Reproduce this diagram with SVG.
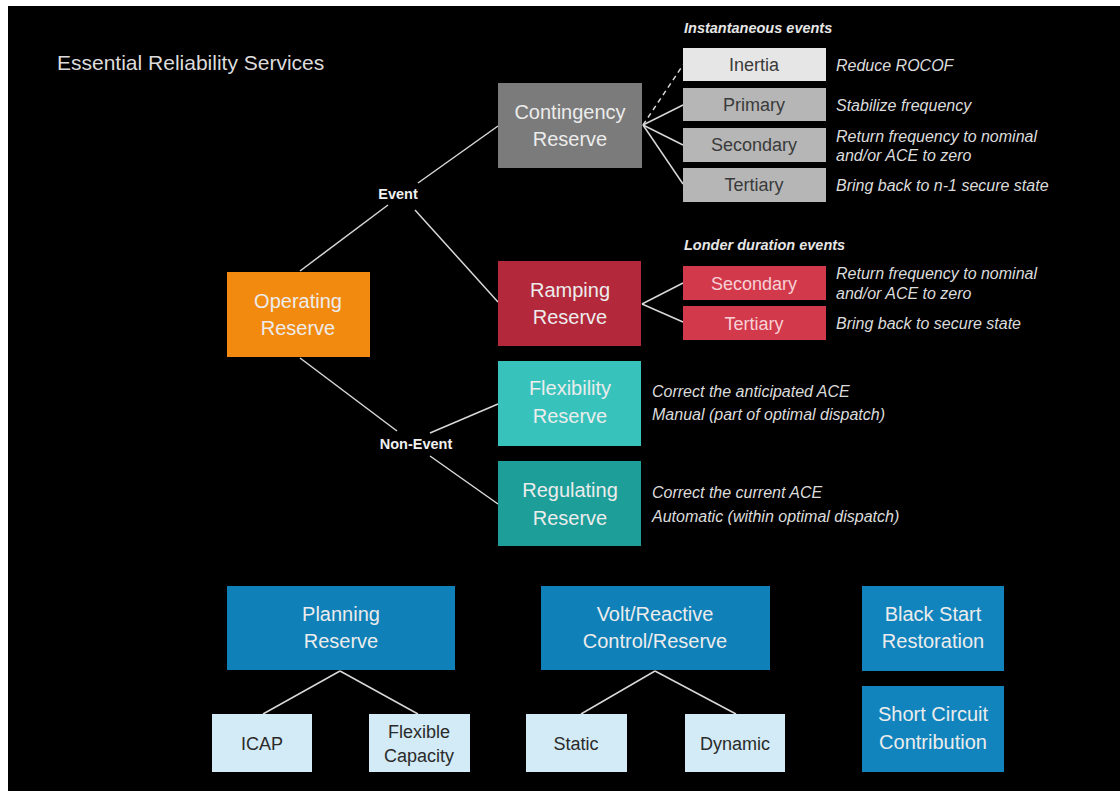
<svg xmlns="http://www.w3.org/2000/svg" width="1120" height="791" viewBox="0 0 1120 791">
<style>
.box{font-family:"Liberation Sans",Arial,sans-serif;font-size:20px;fill:#ececec;text-anchor:middle;}
.sm{font-family:"Liberation Sans",Arial,sans-serif;font-size:18px;fill:#3a3a3a;text-anchor:middle;}
.smr{font-family:"Liberation Sans",Arial,sans-serif;font-size:18px;fill:#f7d0d4;text-anchor:middle;}
.lt{font-family:"Liberation Sans",Arial,sans-serif;font-size:18px;fill:#2a2a2a;text-anchor:middle;}
.desc{font-family:"Liberation Sans",Arial,sans-serif;font-size:16px;font-style:italic;fill:#dcdcdc;}
.hdr{font-family:"Liberation Sans",Arial,sans-serif;font-size:14.5px;font-style:italic;font-weight:bold;fill:#e6e6e6;}
.lbl{font-family:"Liberation Sans",Arial,sans-serif;font-size:14.5px;font-weight:bold;fill:#f0f0f0;text-anchor:middle;}
.ln{stroke:#d8d8d8;stroke-width:1.5;fill:none;}
</style>
<rect x="0" y="0" width="1120" height="791" fill="#ffffff"/>
<rect x="8" y="6" width="1112" height="785" fill="#000000"/>
<text x="57" y="70" font-family="Liberation Sans, Arial, sans-serif" font-size="21" fill="#dcdcdc">Essential Reliability Services</text>

<g id="connectors">
<line class="ln" x1="300" y1="271" x2="388" y2="205"/>
<line class="ln" x1="418" y1="183" x2="498" y2="126"/>
<line class="ln" x1="415" y1="210" x2="498" y2="302"/>
<line class="ln" x1="300" y1="358" x2="397" y2="431"/>
<line class="ln" x1="430" y1="433" x2="498" y2="404"/>
<line class="ln" x1="430" y1="456" x2="498" y2="504"/>
<line class="ln" x1="643" y1="125" x2="683" y2="65" stroke-dasharray="5,4"/>
<line class="ln" x1="643" y1="125" x2="683" y2="105"/>
<line class="ln" x1="643" y1="125" x2="683" y2="145"/>
<line class="ln" x1="643" y1="125" x2="683" y2="184"/>
<line class="ln" x1="642" y1="304" x2="683" y2="283"/>
<line class="ln" x1="642" y1="304" x2="683" y2="322"/>
<line class="ln" x1="340" y1="671" x2="263" y2="714"/>
<line class="ln" x1="340" y1="671" x2="418" y2="714"/>
<line class="ln" x1="655" y1="671" x2="581" y2="714"/>
<line class="ln" x1="655" y1="671" x2="736" y2="714"/>
</g>

<g id="label-event"><text class="lbl" x="398" y="199">Event</text></g>
<g id="label-nonevent"><text class="lbl" x="416" y="449">Non-Event</text></g>

<g id="operating">
<rect x="227" y="272" width="143" height="85" fill="#f38a10"/>
<text class="box" x="298" y="308" fill="#fbe3c4">Operating</text>
<text class="box" x="298" y="335" fill="#fbe3c4">Reserve</text>
</g>

<g id="contingency">
<rect x="498" y="83" width="144" height="85" fill="#7b7b7b"/>
<text class="box" x="570" y="119">Contingency</text>
<text class="box" x="570" y="146">Reserve</text>
</g>

<text class="hdr" x="684" y="33">Instantaneous events</text>

<g id="inertia"><rect x="683" y="48" width="143" height="33" fill="#e6e6e6"/><text class="sm" x="754" y="71">Inertia</text></g>
<g id="primary"><rect x="683" y="88" width="143" height="33" fill="#b6b6b6"/><text class="sm" x="754" y="111">Primary</text></g>
<g id="secondary-c"><rect x="683" y="128" width="143" height="34" fill="#b6b6b6"/><text class="sm" x="754" y="151">Secondary</text></g>
<g id="tertiary-c"><rect x="683" y="168" width="143" height="34" fill="#b6b6b6"/><text class="sm" x="754" y="191">Tertiary</text></g>

<text class="desc" x="836" y="71">Reduce ROCOF</text>
<text class="desc" x="836" y="111">Stabilize frequency</text>
<text class="desc" x="836" y="142">Return frequency to nominal</text>
<text class="desc" x="836" y="161">and/or ACE to zero</text>
<text class="desc" x="836" y="191">Bring back to n-1 secure state</text>

<g id="ramping">
<rect x="498" y="261" width="143" height="85" fill="#b3283a"/>
<text class="box" x="570" y="297" fill="#f5d5d8">Ramping</text>
<text class="box" x="570" y="324" fill="#f5d5d8">Reserve</text>
</g>

<text class="hdr" x="684" y="250">Londer duration events</text>

<g id="secondary-r"><rect x="683" y="266" width="143" height="34" fill="#d23a4c"/><text class="smr" x="754" y="290">Secondary</text></g>
<g id="tertiary-r"><rect x="683" y="306" width="143" height="34" fill="#d23a4c"/><text class="smr" x="754" y="330">Tertiary</text></g>

<text class="desc" x="836" y="279">Return frequency to nominal</text>
<text class="desc" x="836" y="299">and/or ACE to zero</text>
<text class="desc" x="836" y="329">Bring back to secure state</text>

<g id="flexibility">
<rect x="498" y="361" width="143" height="85" fill="#37c3bc"/>
<text class="box" x="570" y="395" fill="#d8f5f3">Flexibility</text>
<text class="box" x="570" y="423" fill="#d8f5f3">Reserve</text>
</g>
<text class="desc" x="652" y="397">Correct the anticipated ACE</text>
<text class="desc" x="652" y="420">Manual (part of optimal dispatch)</text>

<g id="regulating">
<rect x="498" y="461" width="143" height="85" fill="#1d9e98"/>
<text class="box" x="570" y="497" fill="#d8f3f1">Regulating</text>
<text class="box" x="570" y="525" fill="#d8f3f1">Reserve</text>
</g>
<text class="desc" x="652" y="498">Correct the current ACE</text>
<text class="desc" x="652" y="522">Automatic (within optimal dispatch)</text>

<g id="planning">
<rect x="227" y="586" width="228" height="84" fill="#0f80b8"/>
<text class="box" x="341" y="621" fill="#d6ecf7">Planning</text>
<text class="box" x="341" y="648" fill="#d6ecf7">Reserve</text>
</g>
<g id="volt">
<rect x="541" y="586" width="229" height="84" fill="#0f80b8"/>
<text class="box" x="655" y="621" fill="#d6ecf7">Volt/Reactive</text>
<text class="box" x="655" y="648" fill="#d6ecf7">Control/Reserve</text>
</g>
<g id="blackstart">
<rect x="862" y="586" width="142" height="85" fill="#1184be"/>
<text class="box" x="933" y="621" fill="#d6ecf7">Black Start</text>
<text class="box" x="933" y="648" fill="#d6ecf7">Restoration</text>
</g>
<g id="shortcircuit">
<rect x="862" y="686" width="142" height="86" fill="#1184be"/>
<text class="box" x="933" y="721" fill="#d6ecf7">Short Circuit</text>
<text class="box" x="933" y="749" fill="#d6ecf7">Contribution</text>
</g>

<g id="icap"><rect x="212" y="714" width="100" height="58" fill="#d3ebf6"/><text class="lt" x="262" y="750">ICAP</text></g>
<g id="flexcap"><rect x="369" y="714" width="101" height="58" fill="#d3ebf6"/><text class="lt" x="419" y="738">Flexible</text><text class="lt" x="419" y="762">Capacity</text></g>
<g id="static"><rect x="526" y="714" width="101" height="58" fill="#d3ebf6"/><text class="lt" x="576" y="750">Static</text></g>
<g id="dynamic"><rect x="685" y="714" width="100" height="58" fill="#d3ebf6"/><text class="lt" x="735" y="750">Dynamic</text></g>
</svg>
